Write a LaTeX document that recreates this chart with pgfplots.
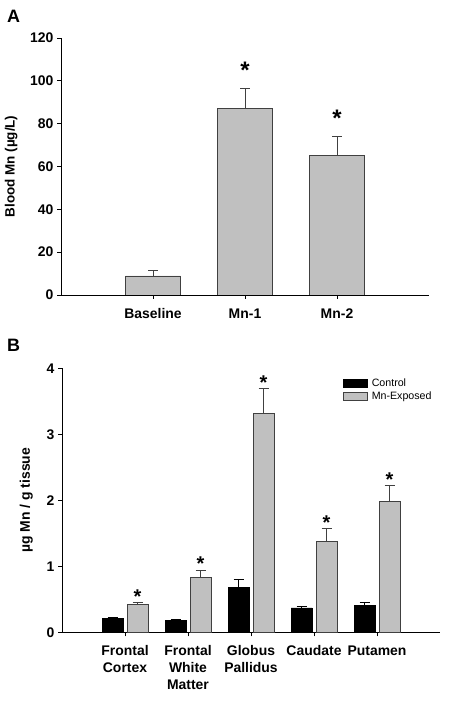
\documentclass[border=0pt]{standalone}
\usepackage{pgfplots}
\pgfplotsset{compat=1.18}
\usepackage{fontspec}
\setmainfont{Liberation Sans}
\definecolor{barg}{RGB}{192,192,192}
\definecolor{edgeg}{RGB}{64,64,64}
\pgfplotsset{
  myerr/.style={error bars/.cd, y dir=plus, y explicit,
    error bar style={#1, line width=0.7pt},
    error mark options={rotate=90, mark size=5bp, #1, line width=0.7pt}, /pgfplots/.cd},
  boxleg/.style={legend image code/.code={\draw[##1] (0bp,-4bp) rectangle (24bp,4bp);}},
  common/.style={
    scale only axis,
    axis x line*=bottom, axis y line*=left,
    axis line style={-, black, line width=0.8pt},
    tick align=outside, major tick length=4bp,
    tick style={black, line width=0.8pt},
    /pgf/number format/assume math mode=true,
  }
}
\begin{document}
\begin{tikzpicture}[x=1bp,y=1bp]
\path[use as bounding box] (0,0) rectangle (450,704);
\node[anchor=north west, font=\fontsize{18}{20}\selectfont\bfseries, inner sep=0] at (7,694) {A};
\node[anchor=north west, font=\fontsize{18}{20}\selectfont\bfseries, inner sep=0] at (7,365) {B};
\begin{axis}[common,
  at={(61bp,409bp)}, anchor=south west,
  width=368bp, height=257bp,
  xmin=-1, xmax=3, ymin=0, ymax=120,
  xtick={0,1,2}, xticklabels={Baseline,Mn-1,Mn-2},
  ytick={0,20,...,120},
  ticklabel style={font=\fontsize{14}{16}\selectfont\bfseries},
  xticklabel style={yshift=-6bp},
  ylabel={Blood Mn (µg/L)},
  ylabel style={font=\fontsize{13.5}{15}\selectfont\bfseries, yshift=6bp},
  ybar, bar width=55bp,
]
\addplot[fill=barg, draw=edgeg, line width=0.7pt, myerr=edgeg] coordinates {
  (0,8.9) +- (0,2.4)
  (1,87.0) +- (0,9.3)
  (2,65.0) +- (0,8.9)
};
\node[font=\fontsize{24}{26}\selectfont\bfseries, inner sep=0] at (axis cs:1,105) {*};
\node[font=\fontsize{24}{26}\selectfont\bfseries, inner sep=0] at (axis cs:2,82.5) {*};
\end{axis}
\begin{axis}[common,
  at={(62bp,71.7bp)}, anchor=south west,
  width=378bp, height=264bp,
  xmin=-1, xmax=5, ymin=0, ymax=4,
  xtick={0,1,2,3,4},
  xticklabels={Frontal\\Cortex, Frontal\\White\\Matter, Globus\\Pallidus, Caudate, Putamen},
  xticklabel style={align=center, yshift=-6bp},
  ytick={0,1,2,3,4},
  ticklabel style={font=\fontsize{14}{16.7}\selectfont\bfseries},
  ylabel={µg Mn / g tissue},
  ylabel style={font=\fontsize{14}{16}\selectfont\bfseries, yshift=7bp},
  ybar=4bp, bar width=21bp,
  legend style={draw=none, fill=none, at={(0.743,0.97)}, anchor=north west,
    font=\fontsize{10.7}{12}\selectfont, row sep=0bp, inner sep=0pt,
    nodes={inner xsep=4bp}},
  legend cell align=left,
]
\addplot[fill=black, draw=black, line width=0.7pt, boxleg, myerr=black] coordinates {
  (0,0.21) +- (0,0.02)
  (1,0.18) +- (0,0.02)
  (2,0.68) +- (0,0.12)
  (3,0.37) +- (0,0.02)
  (4,0.41) +- (0,0.04)
};
\addplot[fill=barg, draw=edgeg, line width=0.7pt, boxleg, myerr=edgeg] coordinates {
  (0,0.42) +- (0,0.03)
  (1,0.83) +- (0,0.11)
  (2,3.31) +- (0,0.38)
  (3,1.38) +- (0,0.19)
  (4,1.98) +- (0,0.25)
};
\legend{Control, Mn-Exposed}
\node[font=\fontsize{20}{22}\selectfont\bfseries, inner sep=0, xshift=12.5bp] at (axis cs:0,0.54) {*};
\node[font=\fontsize{20}{22}\selectfont\bfseries, inner sep=0, xshift=12.5bp] at (axis cs:1,1.045) {*};
\node[font=\fontsize{20}{22}\selectfont\bfseries, inner sep=0, xshift=12.5bp] at (axis cs:2,3.78) {*};
\node[font=\fontsize{20}{22}\selectfont\bfseries, inner sep=0, xshift=12.5bp] at (axis cs:3,1.66) {*};
\node[font=\fontsize{20}{22}\selectfont\bfseries, inner sep=0, xshift=12.5bp] at (axis cs:4,2.31) {*};
\end{axis}
\end{tikzpicture}
\end{document}
